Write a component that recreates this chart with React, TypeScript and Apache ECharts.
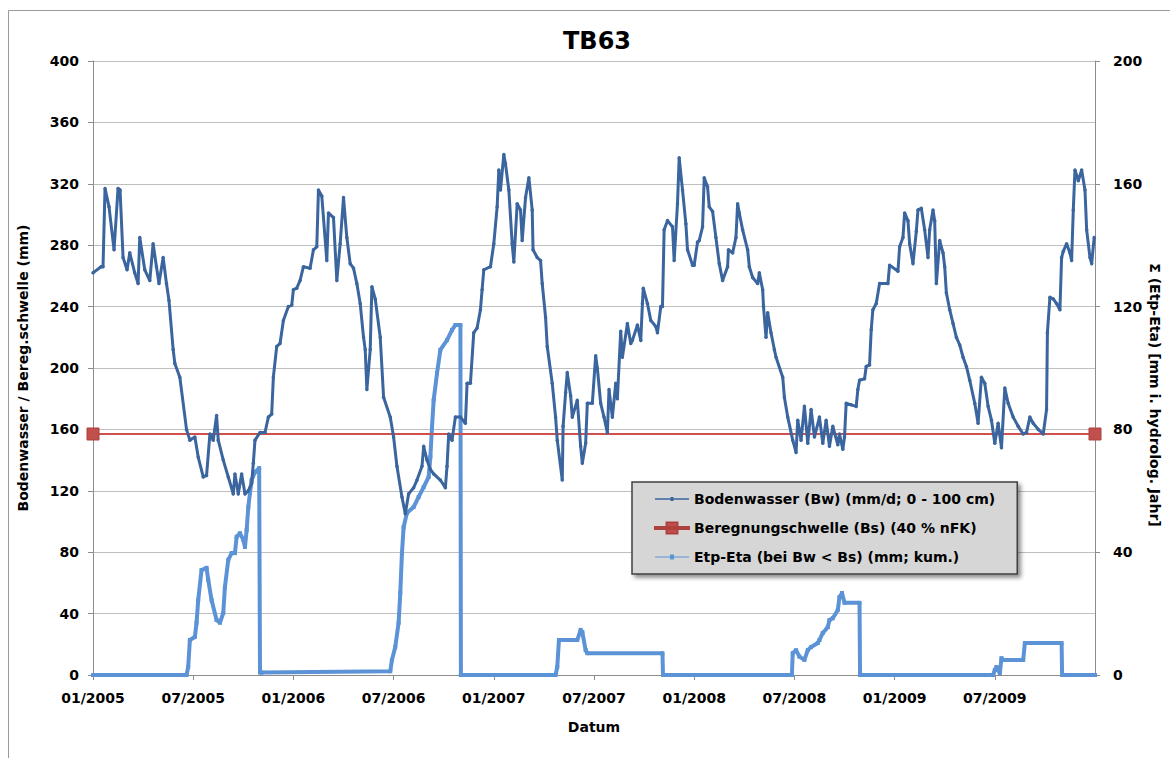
import React, { useEffect, useRef } from "react";
import * as echarts from "echarts";

// x positions are months since 01/2005 (0 = 01/2005, 60 = 01/2010)
const xTickMonths = [0, 6, 12, 18, 24, 30, 36, 42, 48, 54];
const leftTicks = [0, 40, 80, 120, 160, 200, 240, 280, 320, 360, 400];
const rightTicks = [0, 40, 80, 120, 160, 200];

const bwX = [
  0, 0.48, 0.6, 0.72, 0.96, 1.26, 1.5, 1.62, 1.8, 2.04, 2.2, 2.5, 2.7, 2.8, 3.1, 3.4, 3.6, 3.8, 3.95, 4.2,
  4.4, 4.55, 4.8, 4.9, 5.2, 5.6, 5.8, 6.1, 6.3, 6.6, 6.8, 7.0, 7.2, 7.4, 7.5, 7.8, 8.1, 8.4, 8.5, 8.7,
  8.9, 9.1, 9.3, 9.5, 9.6, 9.7, 10.0, 10.3, 10.5, 10.7, 10.8, 11.0, 11.2, 11.4, 11.7, 11.9, 12.0, 12.2, 12.4, 12.6,
  13.0, 13.2, 13.4, 13.5, 13.7, 14.0, 14.1, 14.4, 14.6, 14.8, 15.0, 15.2, 15.4, 15.6, 15.8, 16.0, 16.2, 16.3, 16.4, 16.6,
  16.7, 16.9, 17.2, 17.4, 17.8, 18.0, 18.2, 18.5, 18.7, 18.9, 19.2, 19.4, 19.7, 19.8, 20.0, 20.2, 20.4, 20.8, 21.1, 21.2,
  21.3, 21.5, 21.7, 22.0, 22.3, 22.4, 22.6, 22.8, 23.0, 23.2, 23.3, 23.4, 23.8, 24.0, 24.2, 24.3, 24.4, 24.6, 24.7, 24.9,
  25.1, 25.2, 25.4, 25.6, 25.7, 25.9, 26.1, 26.3, 26.35, 26.6, 26.8, 26.9, 27.1, 27.2, 27.5, 27.7, 27.8, 28.1, 28.15, 28.3,
  28.4, 28.6, 28.7, 29.0, 29.2, 29.3, 29.5, 29.6, 29.9, 30.1, 30.2, 30.4, 30.6, 30.8, 30.9, 31.1, 31.3, 31.4, 31.6, 31.7,
  32.0, 32.2, 32.3, 32.6, 32.8, 32.9, 32.95, 33.2, 33.4, 33.7, 33.8, 34.0, 34.1, 34.2, 34.4, 34.7, 34.8, 35.0, 35.1, 35.3,
  35.5, 35.6, 35.9, 36.0, 36.2, 36.3, 36.5, 36.6, 36.8, 36.9, 37.1, 37.3, 37.5, 37.7, 38.0, 38.05, 38.3, 38.5, 38.6, 38.7,
  38.9, 39.2, 39.3, 39.5, 39.8, 39.9, 40.1, 40.15, 40.3, 40.4, 40.6, 40.8, 40.9, 41.3, 41.4, 41.6, 41.9, 42.1, 42.2, 42.4,
  42.6, 42.8, 43.0, 43.2, 43.5, 43.7, 43.9, 44.1, 44.3, 44.6, 44.7, 44.9, 45.0, 45.1, 45.4, 45.7, 45.8, 45.9, 46.2, 46.3,
  46.5, 46.6, 46.7, 46.9, 47.1, 47.6, 47.7, 48.2, 48.3, 48.5, 48.6, 48.8, 48.9, 49.1, 49.3, 49.4, 49.6, 49.8, 50.0, 50.1,
  50.3, 50.4, 50.5, 50.7, 50.9, 51.0, 51.1, 51.3, 51.5, 51.7, 51.9, 52.1, 52.3, 52.5, 52.8, 53.0, 53.2, 53.4, 53.6, 53.8,
  54.0, 54.2, 54.4, 54.6, 54.8, 55.1, 55.4, 55.7, 55.9, 56.1, 56.3, 56.6, 56.9, 57.1, 57.15, 57.3, 57.5, 57.7, 57.9, 58.0,
  58.1, 58.3, 58.5, 58.6, 58.7, 58.8, 59.0, 59.2, 59.4, 59.5, 59.7, 59.8, 59.95,
];
const bwY = [
  262, 266, 266, 317, 305, 277, 317, 316, 272, 264, 275, 262, 255, 285, 264, 257, 281, 266, 255, 272,
  255, 244, 212, 203, 194, 160, 153, 155, 142, 129, 130, 157, 153, 169, 153, 140, 129, 118, 131, 118,
  131, 118, 120, 125, 138, 153, 158, 158, 168, 170, 194, 214, 216, 231, 240, 241, 251, 252, 257, 266,
  265, 277, 279, 316, 312, 270, 301, 298, 257, 281, 311, 285, 268, 265, 255, 242, 220, 212, 186, 212,
  253, 245, 220, 181, 168, 155, 136, 116, 105, 118, 122, 127, 136, 149, 140, 134, 131, 127, 122, 136,
  157, 153, 168, 168, 164, 190, 190, 223, 226, 238, 251, 264, 266, 281, 305, 329, 316, 339, 333, 316,
  281, 269, 307, 303, 283, 311, 324, 303, 277, 272, 270, 255, 233, 214, 190, 168, 153, 127, 162, 184,
  197, 182, 168, 179, 149, 138, 151, 177, 177, 208, 200, 177, 168, 158, 186, 168, 190, 180, 224, 207,
  229, 216, 218, 228, 218, 242, 252, 242, 231, 227, 223, 240, 240, 290, 296, 292, 270, 307, 337, 316,
  294, 277, 267, 267, 282, 283, 292, 324, 318, 305, 302, 285, 268, 257, 266, 277, 275, 285, 307, 301,
  290, 277, 266, 259, 255, 262, 251, 240, 220, 236, 223, 212, 207, 194, 181, 168, 153, 145, 166, 153,
  175, 151, 173, 155, 168, 151, 166, 149, 162, 150, 157, 147, 155, 177, 176, 175, 186, 192, 193, 201,
  202, 225, 238, 242, 255, 255, 267, 263, 279, 285, 301, 296, 281, 268, 289, 303, 304, 290, 272, 290,
  303, 296, 255, 283, 275, 266, 249, 238, 229, 220, 215, 207, 201, 192, 177, 164, 194, 190, 175, 166,
  151, 164, 148, 187, 177, 168, 162, 157, 158, 168, 164, 160, 157, 173, 223, 246, 245, 242, 238, 272,
  276, 281, 275, 270, 303, 329, 322, 329, 316, 290, 272, 268, 285,
];

const bsX = [0, 60];
const bsY = [157, 157];

const etX = [
  0, 5.6, 5.7, 5.8, 6.1, 6.2, 6.3, 6.5, 6.8, 6.9, 7.1, 7.4, 7.6, 7.8, 7.9, 8.1, 8.3, 8.5, 8.6, 8.8,
  9.0, 9.1, 9.2, 9.3, 9.4, 9.5, 9.7, 9.95, 10.0, 10.1, 17.8, 17.9, 18.1, 18.3, 18.4, 18.5, 18.6, 18.8, 19.2, 19.5,
  19.8, 20.1, 20.2, 20.3, 20.4, 20.6, 20.8, 21.2, 21.5, 21.7, 22.0, 22.03, 27.7, 27.8, 27.9, 29.0, 29.2, 29.3, 29.5, 29.6,
  34.1, 34.13, 41.85, 41.9, 42.1, 42.3, 42.6, 42.8, 43.0, 43.4, 43.5, 43.7, 44.0, 44.1, 44.3, 44.6, 44.7, 44.85, 45.0, 45.9,
  45.93, 53.9, 54.0, 54.1, 54.3, 54.4, 54.5, 55.7, 55.8, 58.0, 58.03, 60,
];
const etY = [
  0, 0, 2.6, 11.4, 12.4, 17, 24.4, 34.2, 34.9, 31, 24.4, 17.9, 17, 20.2, 28.7, 37.5, 39.7, 39.7, 45, 46.2,
  44, 41.7, 47.2, 54.7, 59.3, 63.5, 66.1, 67.4, 0.8, 0.8, 1.2, 4.9, 9.1, 17, 26.7, 39.7, 48.2, 52.8, 54.7, 58,
  61.2, 64.5, 71, 80.8, 89.6, 98.3, 105.9, 109.1, 112.4, 114, 114, 0, 0, 2.6, 11.4, 11.4, 14.7, 14, 8.1, 7.1,
  7.1, 0, 0, 7.1, 8.1, 6, 4.9, 8.1, 9.1, 10.4, 11.4, 13.7, 15.6, 17.9, 18.5, 21.2, 25.4, 26.7, 23.5, 23.5,
  0, 0, 1.6, 2.6, 0.6, 5.5, 4.9, 4.9, 10.4, 10.4, 0, 0,
];

const NAME_BW = "Bodenwasser (Bw) (mm/d; 0 - 100 cm)";
const NAME_BS = "Beregnungschwelle (Bs) (40 % nFK)";
const NAME_ET = "Etp-Eta (bei Bw < Bs) (mm; kum.)";

const FONT = "DejaVu Sans";
const pad2 = (n: number) => (n < 10 ? "0" + n : "" + n);

// legend icons: a line with a marker in its middle (drawn in a 34 x 12 box)
const ICON_BW = "path://M0,0 L0,0.01 Z M0,5.2 L34,5.2 L34,6.8 L0,6.8 Z M15.5,4 L18.5,4 L18.5,8 L15.5,8 Z M34,12 L34,11.99 Z";
const ICON_BS = "path://M0,0 L0,0.01 Z M0,5 L34,5 L34,7 L0,7 Z M11.5,0.5 L22.5,0.5 L22.5,11.5 L11.5,11.5 Z M34,12 L34,11.99 Z";
const ICON_ET = "path://M0,0 L0,0.01 Z M0,5.4 L34,5.4 L34,6.6 L0,6.6 Z M15,3.6 L19,3.6 L19,8.4 L15,8.4 Z M34,12 L34,11.99 Z";

export default function App() {
  const ref = useRef<HTMLDivElement>(null);
  useEffect(() => {
    if (!ref.current) return;
    const chart = echarts.init(ref.current, undefined, { renderer: "svg" });
    const txt = { fontFamily: FONT, fontWeight: "bold" as const, color: "#000", fontSize: 14 };
    chart.setOption({
      animation: false,
      backgroundColor: "#fff",
      title: {
        text: "TB63",
        left: 592,
        top: 24,
        textAlign: "center",
        textStyle: { fontFamily: FONT, fontWeight: "bold", fontSize: 24, color: "#000" },
      },
      graphic: [
        {
          type: "rect",
          shape: { x: 8.5, y: 10.5, width: 1300, height: 900 },
          style: { fill: "none", stroke: "#9a9a9a", lineWidth: 1 },
          silent: true,
        },
        {
          type: "text",
          x: 1155,
          y: 395,
          rotation: -Math.PI / 2,
          style: {
            text: "Σ (Etp-Eta) [mm i. hydrolog. Jahr]",
            fontFamily: FONT,
            fontWeight: "bold",
            fontSize: 14,
            fill: "#000",
            align: "center",
            verticalAlign: "middle",
          },
          silent: true,
        },
      ],
      grid: { left: 93, right: 75, top: 61, bottom: 83, containLabel: false },
      legend: {
        orient: "vertical",
        left: 632,
        top: 482,
        padding: [10, 22, 10, 22],
        itemGap: 15,
        itemWidth: 34,
        itemHeight: 12,
        symbolKeepAspect: true,
        backgroundColor: "#d6d6d6",
        borderColor: "#404040",
        borderWidth: 1.5,
        shadowBlur: 4,
        shadowOffsetX: 3,
        shadowOffsetY: 3,
        shadowColor: "rgba(0,0,0,0.45)",
        textStyle: { ...txt, fontSize: 14 },
        data: [
          { name: NAME_BW, icon: ICON_BW },
          { name: NAME_BS, icon: ICON_BS },
          { name: NAME_ET, icon: ICON_ET },
        ],
      },
      xAxis: {
        type: "value",
        min: 0,
        max: 60,
        interval: 6,
        name: "Datum",
        nameLocation: "middle",
        nameGap: 45,
        nameTextStyle: { ...txt },
        axisLine: { show: true, lineStyle: { color: "#8c8c8c", width: 1 } },
        axisTick: { show: true, length: 5, lineStyle: { color: "#8c8c8c" } },
        axisLabel: {
          ...txt,
          margin: 16,
          showMaxLabel: false,
          formatter: (v: number) =>
            xTickMonths.includes(v) ? `${pad2((v % 12) + 1)}/${2005 + Math.floor(v / 12)}` : "",
        },
        splitLine: { show: false },
      },
      yAxis: [
        {
          type: "value",
          min: leftTicks[0],
          max: leftTicks[leftTicks.length - 1],
          interval: 40,
          name: "Bodenwasser / Bereg.schwelle (mm)",
          nameLocation: "middle",
          nameGap: 63,
          nameTextStyle: { ...txt },
          axisLine: { show: true, lineStyle: { color: "#8c8c8c", width: 1 } },
          axisTick: { show: true, length: 5, lineStyle: { color: "#8c8c8c" } },
          axisLabel: { ...txt, margin: 14 },
          splitLine: { show: true, lineStyle: { color: "#bfbfbf", width: 1.2 } },
        },
        {
          type: "value",
          min: rightTicks[0],
          max: rightTicks[rightTicks.length - 1],
          interval: 40,
          position: "right",
          axisLine: { show: true, lineStyle: { color: "#8c8c8c", width: 1 } },
          axisTick: { show: true, length: 5, lineStyle: { color: "#8c8c8c" } },
          axisLabel: { ...txt, margin: 18 },
          splitLine: { show: false },
        },
      ],
      series: [
        {
          name: NAME_ET,
          type: "line",
          yAxisIndex: 1,
          data: etX.map((x, i) => [x, etY[i]]),
          symbol: "rect",
          symbolSize: 4,
          showSymbol: true,
          lineStyle: { color: "#5b93d6", width: 4 },
          itemStyle: { color: "#5b93d6" },
          z: 2,
        },
        {
          name: NAME_BS,
          type: "line",
          yAxisIndex: 0,
          data: bsX.map((x, i) => [x, bsY[i]]),
          symbol: "rect",
          symbolSize: 12,
          lineStyle: { color: "#d0504d", width: 2 },
          itemStyle: { color: "#c0504d", borderColor: "#b0403d", borderWidth: 1 },
          z: 3,
        },
        {
          name: NAME_BW,
          type: "line",
          yAxisIndex: 0,
          data: bwX.map((x, i) => [x, bwY[i]]),
          symbol: "circle",
          symbolSize: 3.5,
          showSymbol: true,
          lineStyle: { color: "#3a659e", width: 3 },
          itemStyle: { color: "#3a659e" },
          z: 4,
        },
      ],
    });
    return () => chart.dispose();
  }, []);
  return (
    <div
      ref={ref}
      style={{ position: "fixed", left: 0, top: 0, width: 1170, height: 758 }}
    />
  );
}
